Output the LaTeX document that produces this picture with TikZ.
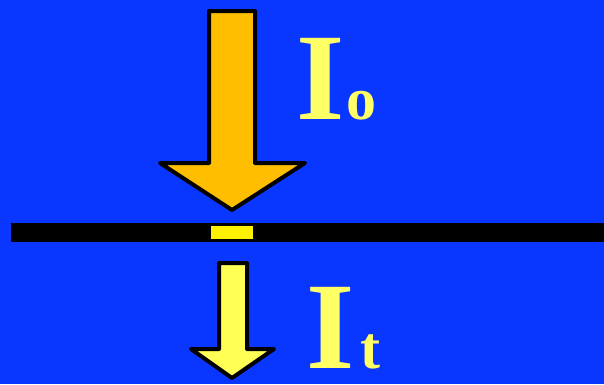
\documentclass[tikz,border=0pt]{standalone}
\usepackage{fontspec}
\setmainfont{Liberation Serif}
\definecolor{bg}{HTML}{0A37FF}
\definecolor{incident}{HTML}{FFBF00}
\definecolor{transm}{HTML}{FFFF55}
\definecolor{lbl}{HTML}{FFFF66}

\begin{document}
\begin{tikzpicture}[x=1pt,y=-1pt,line join=round,
  blockarrow/.style={draw=black,line width=4pt},
  big/.style={text=lbl,inner sep=0pt,anchor=base west,font=\bfseries\fontsize{124}{124}\selectfont},
  small/.style={text=lbl,inner sep=0pt,anchor=base west,font=\bfseries\fontsize{60}{60}\selectfont}]
  \fill[bg] (0,0) rectangle (604,384);
  \useasboundingbox (0,0) rectangle (604,384);
  \draw[blockarrow,fill=incident] (209,11) -- (255,11) -- (255,163) -- (305,163)
    -- (232,210) -- (160,163) -- (209,163) -- cycle;
  \fill[black] (11,223) rectangle (604,242);
  \fill[yellow] (211,226) rectangle (253,239);
  \draw[blockarrow,fill=transm] (219,263) -- (247,263) -- (247,349) -- (274,349)
    -- (232,378) -- (191,349) -- (219,349) -- cycle;
  \node[big] (io) at (296,119) {I};
  \node[small] (osub) at (346.5,119) {o};
  \node[big] (it) at (306,368) {I};
  \node[small] (tsub) at (360,368) {t};
\end{tikzpicture}
\end{document}
